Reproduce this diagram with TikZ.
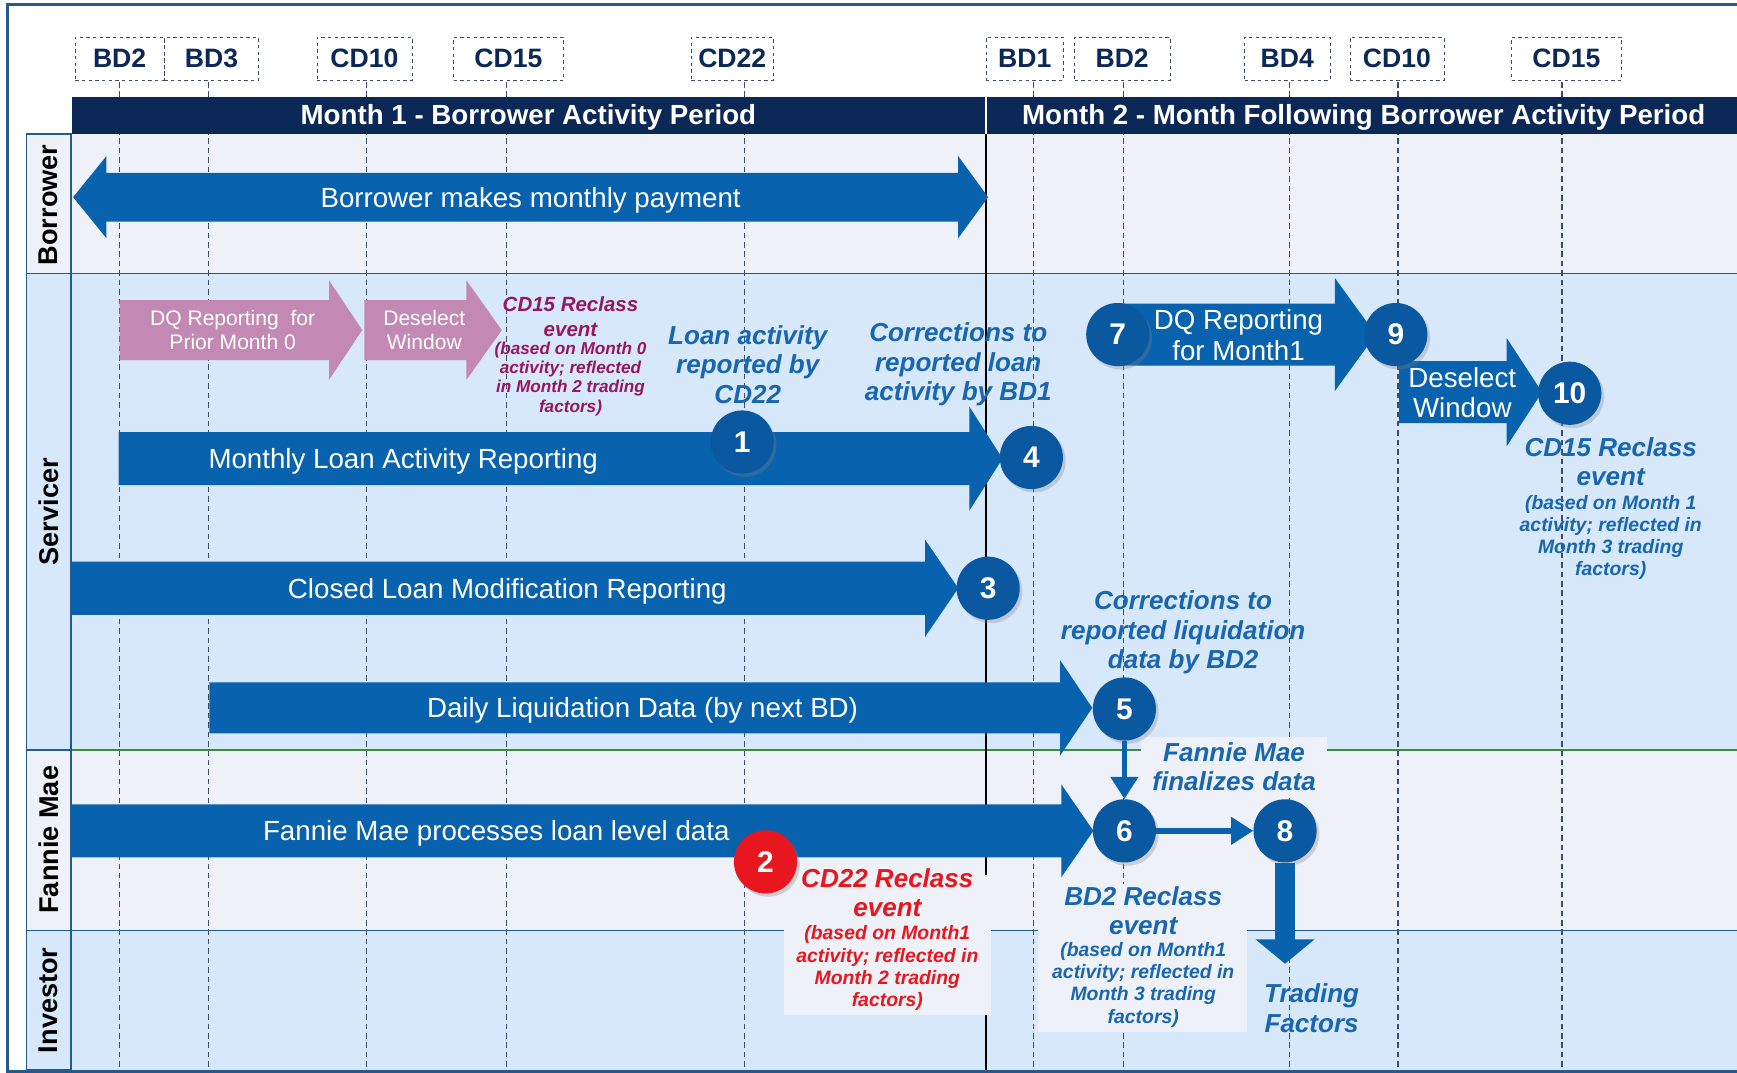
\documentclass[tikz,border=0pt]{standalone}
\usepackage{fontspec}
\setmainfont{Liberation Sans}
\usetikzlibrary{arrows.meta,shadows,positioning}

\definecolor{navy}{RGB}{12,40,86}
\definecolor{arrowblue}{RGB}{8,98,174}
\definecolor{circleblue}{RGB}{10,88,160}
\definecolor{laneblue}{RGB}{214,232,250}
\definecolor{lanegray}{RGB}{238,241,248}
\definecolor{pinkarrow}{RGB}{196,136,180}
\definecolor{noteblue}{RGB}{24,102,176}
\definecolor{notemagenta}{RGB}{150,22,96}
\definecolor{notered}{RGB}{232,22,30}
\definecolor{gridgray}{RGB}{62,78,104}
\definecolor{framecol}{RGB}{36,90,140}
\definecolor{lanegreen}{RGB}{60,140,60}

\newcommand{\fsize}[2]{\fontsize{#1}{#2}\selectfont}
% block arrow: [colour]{x start}{x head base}{x tip}{y centre}{half body}{half head}
\newcommand{\blockarrow}[7][arrowblue]{%
	\fill[#1] (#2,#5-#6) -- (#3,#5-#6) -- (#3,#5-#7) -- (#4,#5)
		-- (#3,#5+#7) -- (#3,#5+#6) -- (#2,#5+#6) -- cycle;}

\begin{document}
\begin{tikzpicture}[x=1pt,y=-1pt,
	datebox/.style={draw=gridgray, dashed, fill=white, text=navy, font=\fsize{24}{26}\bfseries, minimum height=39, inner sep=0pt},
	gridline/.style={draw=gridgray, line width=1.2, dash pattern=on 5pt off 3.5pt},
	laneline/.style={draw=framecol, line width=1.3},
	headtext/.style={text=white, font=\fsize{25}{27}\bfseries, inner sep=0pt, yshift=-2pt},
	lanelabel/.style={rotate=90, font=\fsize{24.5}{26}\bfseries, inner sep=0pt},
	arrowtext/.style={text=white, font=\fsize{25}{27.5}, align=center, inner sep=0pt, yshift=-2.5pt},
	pinktext/.style={text=white, font=\fsize{19}{22}, align=center, inner sep=0pt},
	notetitle/.style={align=center, inner sep=0pt, font=\fsize{23.5}{26.5}\bfseries\itshape},
	notesmall/.style={align=center, inner sep=0pt, font=\fsize{17.5}{20}\bfseries\itshape},
	num/.style={circle, fill=circleblue, text=white, font=\fsize{27}{27}\bfseries, minimum size=57, inner sep=0pt,
		drop shadow={shadow xshift=2.5pt, shadow yshift=-3pt, opacity=0.3}},
	link/.style={draw=arrowblue, line width=5, -{Triangle[length=20pt,width=24pt]}},
	bigdown/.style={draw=arrowblue, line width=18, -{Triangle[length=22pt,width=52pt]}}]

	\useasboundingbox (0,0) rectangle (1568,968);

		% lanes
		\fill[lanegray] (24,121) rectangle (1570,247); %borrower
		\fill[laneblue] (24,247) rectangle (1570,677); %servicer
		\fill[lanegray] (24,677) rectangle (1570,840); %fannie mae
		\fill[laneblue] (24,840) rectangle (1570,966); %investor
		\draw[laneline] (24,247) -- (1570,247);
		\draw[laneline] (24,677) -- (64,677);
		\draw[draw=lanegreen, line width=1.3] (64,677) -- (1570,677);
		\draw[laneline] (24,840) -- (1570,840);
		\draw[laneline] (24,121) rectangle (64,966);

		% outer frame
		\draw[draw=framecol, line width=2.5] (7,4) rectangle (1600,967);

		% business / calendar day markers
		\foreach \x in {108,188,331,457,672,933,1014,1164,1262,1410}
			\draw[gridline] (\x,74) -- (\x,966);
		\foreach \x/\w/\d [count=\i] in {108/80/BD2, 191/85/BD3, 329/86/CD10, 459/99/CD15, 661/74/CD22,
				925/70/BD1, 1013/86/BD2, 1162/77/BD4, 1261/85/CD10, 1414/99/CD15}
			\node[datebox, minimum width=\w] (date\i) at (\x,53) {\d};

		% month header
		\fill[navy] (65,88) rectangle (1570,121);
		\draw[white, line width=1.5] (890,88) -- (890,121);
		\node[headtext] (monthone) at (477,104) {Month 1 - Borrower Activity Period};
		\node[headtext] (monthtwo) at (1231,104) {Month 2 - Month Following Borrower Activity Period};

		% month boundary
		\draw[black, line width=1.8] (890,121) -- (890,966);

		% lane labels
		\node[lanelabel] (lborrower) at (44,185) {Borrower};
		\node[lanelabel] (lservicer) at (44,462) {Servicer};
		\node[lanelabel] (lfannie) at (44,758) {Fannie Mae};
		\node[lanelabel] (linvestor) at (44,903) {Investor};

		%% Borrower %%
		\fill[arrowblue] (66,178) -- (96,141) -- (96,156) -- (865,156) -- (865,141) -- (892,178)
			-- (865,215) -- (865,200) -- (96,200) -- (96,215) -- cycle;
		\node[arrowtext] (payment) at (479,178) {Borrower makes monthly payment};

		%% Servicer %%
		\blockarrow[pinkarrow]{108}{297}{327}{298}{27}{45}
		\blockarrow[pinkarrow]{329}{421}{453}{298}{27}{45}
		\node[pinktext] (dqprior) at (210,298) {DQ Reporting~~for\\Prior Month 0};
		\node[pinktext] (deselectprior) at (383,298) {Deselect\\Window};
		\node[notetitle, text=notemagenta, font=\fsize{18.5}{22}\bfseries\itshape] (cdfifteen) at (515,286) {CD15 Reclass\\event};
		\node[notesmall, text=notemagenta, font=\fsize{15.5}{17.5}\bfseries\itshape] (cdfifteennote) at (515,342)
			{(based on Month 0\\activity; reflected\\in Month 2 trading\\factors)};

		\node[notetitle, text=noteblue] (loanact) at (675,329) {Loan activity\\reported by\\CD22};
		\node[notetitle, text=noteblue] (corrloan) at (865,329) {Corrections to\\reported loan\\activity by BD1};

		\blockarrow{107}{875}{905}{414}{24}{47}
		\node[arrowtext] (monthly) at (364,414) {Monthly Loan Activity Reporting};
		\blockarrow{65}{835}{865}{531}{24}{44}
		\node[arrowtext] (closedmod) at (458,531) {Closed Loan Modification Reporting};
		\blockarrow{189}{957}{986}{639}{23}{43}
		\node[arrowtext] (liquidation) at (580,639) {Daily Liquidation Data (by next BD)};
		\node[notetitle, text=noteblue] (corrliq) at (1068,571) {Corrections to\\reported liquidation\\data by BD2};

		% month 2 delinquency reporting
		\blockarrow{1010}{1205}{1242}{302}{28}{51}
		\node[arrowtext] (dqmonth) at (1118,300) {DQ Reporting\\for Month1};
		\blockarrow{1263}{1360}{1392}{354}{28}{49}
		\node[arrowtext] (deselect) at (1320,352) {Deselect\\Window};
		\node[notetitle, text=noteblue] (cdfifteenb) at (1454,417) {CD15 Reclass\\event};
		\node[notesmall, text=noteblue] (cdfifteenbnote) at (1454,485)
			{(based on Month 1\\activity; reflected in\\Month 3 trading\\factors)};

		%% Fannie Mae %%
		\blockarrow{65}{958}{987}{750}{24}{42}
		\node[arrowtext] (processes) at (448,750) {Fannie Mae processes loan level data};
		\node[notetitle, text=noteblue, fill=lanegray, minimum width=168, minimum height=53] (finalize) at (1114,692)
			{Fannie Mae\\finalizes data};

		% reclass notes
		\fill[lanegray] (708,790) rectangle (895,916);
		\node[notetitle, text=notered] (cdtwotwo) at (801,806) {CD22 Reclass\\event};
		\node[notesmall, text=notered] (cdtwotwonote) at (801,874)
			{(based on Month1\\activity; reflected in\\Month 2 trading\\factors)};
		\fill[lanegray] (937,798) rectangle (1126,932);
		\node[notetitle, text=noteblue] (bdtwo) at (1032,822) {BD2 Reclass\\event};
		\node[notesmall, text=noteblue] (bdtwonote) at (1032,889)
			{(based on Month1\\activity; reflected in\\Month 3 trading\\factors)};

		%% steps %%
		\node[num] (n1) at (670,399) {1};
		\node[num, fill=notered] (n2) at (691,778) {2};
		\node[num] (n3) at (892,531) {3};
		\node[num] (n4) at (931,413) {4};
		\node[num] (n5) at (1015,640) {5};
		\node[num] (n6) at (1015,750) {6};
		\node[num] (n7) at (1009,302) {7};
		\node[num] (n8) at (1160,750) {8};
		\node[num] (n9) at (1260,302) {9};
		\node[num] (n10) at (1417,355) {10};

		\draw[link] (n5) -- (n6);
		\draw[link] (n6) -- (n8);

		% trading factors
		\coordinate (tradetip) at (1160,870);
		\draw[bigdown] (n8) -- (tradetip);
		\node[notetitle, text=noteblue] (trading) at (1184,910) {Trading\\Factors};

\end{tikzpicture}
\end{document}
